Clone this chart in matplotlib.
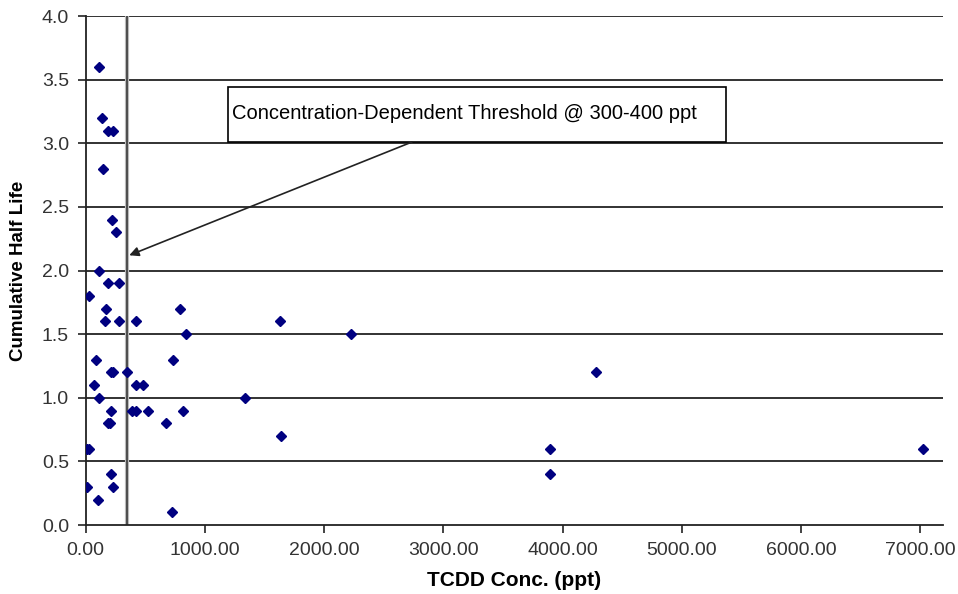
import matplotlib
matplotlib.use("Agg")
import matplotlib.pyplot as plt
from matplotlib.patches import Rectangle

plt.rcParams['font.family'] = ['Liberation Sans', 'DejaVu Sans']

# TCDD concentration (ppt) vs cumulative half life
tcdd = [114, 139, 184, 231, 145, 220, 254, 111, 189, 277,
        30, 173, 793, 164, 282, 422, 841, 84, 732, 215,
        232, 344, 72, 419, 478, 114, 1335, 210, 386, 425,
        525, 818, 185, 200, 676, 12, 30, 212, 13, 226,
        103, 721, 1626, 2221, 1640, 4283, 3889, 3889, 7021]
half_life = [3.6, 3.2, 3.1, 3.1, 2.8, 2.4, 2.3, 2.0, 1.9, 1.9,
             1.8, 1.7, 1.7, 1.6, 1.6, 1.6, 1.5, 1.3, 1.3, 1.2,
             1.2, 1.2, 1.1, 1.1, 1.1, 1.0, 1.0, 0.9, 0.9, 0.9,
             0.9, 0.9, 0.8, 0.8, 0.8, 0.6, 0.6, 0.4, 0.3, 0.3,
             0.2, 0.1, 1.6, 1.5, 0.7, 1.2, 0.6, 0.4, 0.6]

threshold = 350
x_ticks = [0, 1000, 2000, 3000, 4000, 5000, 6000, 7000]
y_ticks = [0.0, 0.5, 1.0, 1.5, 2.0, 2.5, 3.0, 3.5, 4.0]
note = "Concentration-Dependent Threshold @ 300-400 ppt"

fig = plt.figure(figsize=(9.58, 5.94), dpi=100)
ax = fig.add_axes([0.0895, 0.116, 0.8945, 0.857])

for yv in y_ticks[1:]:
    ax.axhline(yv, color='#222222', lw=1.3, zorder=1)

ax.axvline(threshold, color='#bbbbbb', lw=3.0, zorder=2)
ax.axvline(threshold, color='#444444', lw=1.3, zorder=2)

ax.plot(tcdd, half_life, linestyle='none', marker='D', ms=5,
        color='#000080', zorder=4)

ax.set_xlim(0, 7186)
ax.set_ylim(0, 4.0)
ax.set_xticks(x_ticks)
ax.set_xticklabels([f"{v:.2f}" for v in x_ticks])
ax.set_yticks(y_ticks)
ax.set_yticklabels([f"{v:.1f}" for v in y_ticks])

for s in ['top', 'right']:
    ax.spines[s].set_visible(False)
for s in ['left', 'bottom']:
    ax.spines[s].set_color('#222222')
    ax.spines[s].set_linewidth(1.3)
ax.tick_params(direction='out', length=6, width=1.2, color='#222222',
               labelsize=14, labelcolor='#333333')
ax.tick_params(axis='x', pad=6)
ax.tick_params(axis='y', pad=6)

ax.set_xlabel("TCDD Conc. (ppt)", fontsize=15, fontweight='bold', labelpad=9)
ax.set_ylabel("Cumulative Half Life", fontsize=13.5, fontweight='bold', labelpad=11)

# callout box and arrow
ax.add_patch(Rectangle((1189, 3.01), 4178, 0.43, facecolor='white',
                       edgecolor='black', lw=1.2, zorder=5))
ax.text(1226, 3.188, note, fontsize=14.5, ha='left', va='baseline', zorder=6)
ax.annotate("", xy=(365, 2.12), xytext=(2735, 3.01),
            arrowprops=dict(arrowstyle='-|>', color='#222222', lw=1.2,
                            mutation_scale=14, shrinkA=0, shrinkB=0),
            zorder=5)

fig.savefig("out.png", dpi=100)
